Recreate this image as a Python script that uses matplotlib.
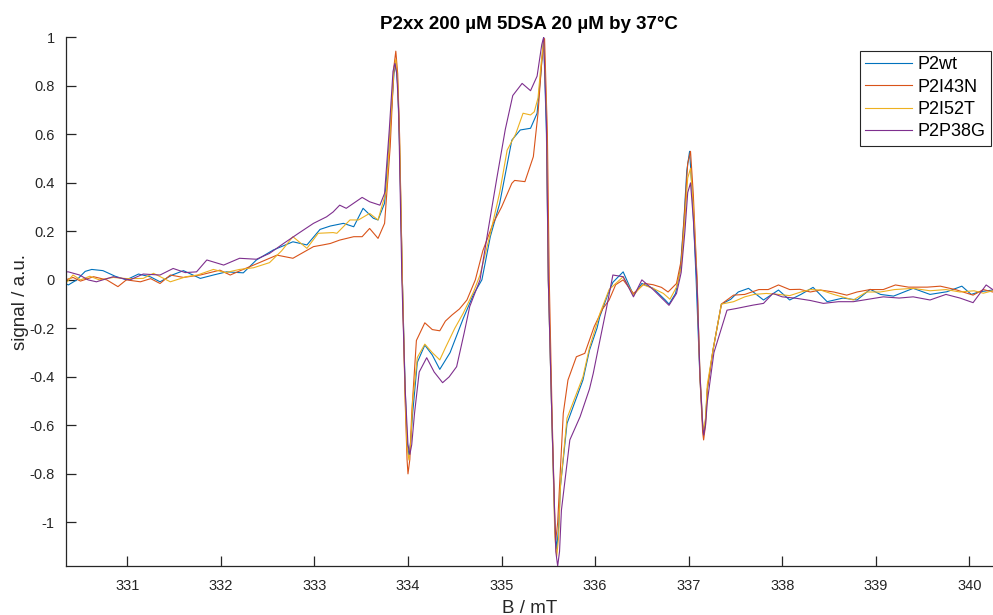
import matplotlib
matplotlib.use("Agg")
import matplotlib.pyplot as plt

plt.rcParams['font.family'] = ['Liberation Sans', 'DejaVu Sans']
plt.rcParams['axes.unicode_minus'] = False

# field (mT) and normalised signal for each sample
b_wt = [330.34, 330.37, 330.46, 330.55, 330.62, 330.74, 330.87, 330.99, 331.12, 331.25,
        331.35, 331.48, 331.60, 331.78, 331.92, 332.06, 332.24, 332.38, 332.56, 332.77,
        332.92, 333.06, 333.17, 333.31, 333.42, 333.52, 333.63, 333.68, 333.75, 333.81,
        333.85, 333.87, 333.89, 333.91, 333.94, 333.97, 333.99, 334.01, 334.03, 334.05,
        334.10, 334.18, 334.26, 334.34, 334.45, 334.59, 334.70, 334.79, 334.88, 334.98,
        335.11, 335.20, 335.31, 335.38, 335.42, 335.45, 335.48, 335.50, 335.54, 335.57,
        335.59, 335.61, 335.63, 335.70, 335.87, 335.94, 336.02, 336.05, 336.14, 336.19,
        336.30, 336.41, 336.50, 336.62, 336.75, 336.79, 336.86, 336.91, 336.95, 336.98,
        337.01, 337.04, 337.08, 337.12, 337.15, 337.16, 337.18, 337.20, 337.26, 337.35,
        337.45, 337.53, 337.64, 337.80, 337.96, 338.08, 338.20, 338.33, 338.48, 338.65,
        338.80, 338.94, 339.05, 339.19, 339.40, 339.58, 339.76, 339.92, 340.02, 340.11,
        340.25]
s_wt = [-0.015, -0.021, 0.0, 0.035, 0.043, 0.038, 0.015, 0.0, 0.024, 0.012,
        -0.008, 0.02, 0.038, 0.006, 0.02, 0.033, 0.029, 0.082, 0.123, 0.157,
        0.144, 0.208, 0.222, 0.233, 0.219, 0.295, 0.254, 0.247, 0.316, 0.618,
        0.85, 0.893, 0.80, 0.55, 0.0, -0.45, -0.66, -0.73, -0.66, -0.55,
        -0.34, -0.269, -0.31, -0.369, -0.30, -0.16, -0.06, 0.0, 0.178, 0.315,
        0.576, 0.618, 0.625, 0.687, 0.85, 1.0, 0.6, 0.0, -0.6, -1.02,
        -1.11, -1.02, -0.85, -0.592, -0.413, -0.29, -0.2, -0.152, -0.056, -0.01,
        0.033, -0.063, -0.015, -0.035, -0.083, -0.1, -0.056, 0.04, 0.25, 0.45,
        0.53, 0.35, 0.0, -0.4, -0.6, -0.633, -0.58, -0.45, -0.29, -0.1,
        -0.08, -0.05, -0.035, -0.083, -0.042, -0.083, -0.06, -0.031, -0.09, -0.075,
        -0.083, -0.039, -0.06, -0.067, -0.035, -0.06, -0.049, -0.026, -0.06, -0.049,
        -0.042]

b_i43n = [330.34, 330.42, 330.50, 330.64, 330.78, 330.90, 330.99, 331.14, 331.25, 331.35,
          331.46, 331.60, 331.78, 331.99, 332.10, 332.22, 332.35, 332.60, 332.77, 332.99,
          333.09, 333.17, 333.27, 333.42, 333.51, 333.59, 333.68, 333.75, 333.81, 333.85,
          333.87, 333.89, 333.91, 333.94, 333.97, 333.99, 334.00, 334.02, 334.04, 334.09,
          334.18, 334.26, 334.34, 334.40, 334.47, 334.55, 334.63, 334.72, 334.80, 334.91,
          335.00, 335.11, 335.14, 335.25, 335.34, 335.39, 335.43, 335.46, 335.49, 335.51,
          335.54, 335.57, 335.58, 335.60, 335.62, 335.66, 335.71, 335.80, 335.89, 335.99,
          336.08, 336.15, 336.22, 336.30, 336.41, 336.53, 336.62, 336.71, 336.78, 336.87,
          336.92, 336.96, 336.99, 337.02, 337.05, 337.09, 337.12, 337.15, 337.16, 337.18,
          337.20, 337.26, 337.35, 337.48, 337.60, 337.75, 337.85, 337.96, 338.08, 338.19,
          338.30, 338.41, 338.55, 338.69, 338.80, 338.94, 339.08, 339.21, 339.35, 339.55,
          339.69, 339.85, 340.04, 340.15, 340.25]
s_i43n = [0.0, 0.01, -0.005, 0.013, 0.0, -0.028, 0.0, -0.008, 0.005, -0.015,
          0.02, 0.01, 0.02, 0.04, 0.02, 0.04, 0.061, 0.102, 0.089, 0.137,
          0.144, 0.15, 0.164, 0.178, 0.178, 0.212, 0.171, 0.233, 0.549, 0.88,
          0.943, 0.85, 0.6, 0.0, -0.5, -0.74, -0.80, -0.74, -0.55, -0.25,
          -0.177, -0.205, -0.21, -0.17, -0.145, -0.12, -0.083, 0.0, 0.12, 0.233,
          0.30, 0.398, 0.41, 0.405, 0.508, 0.687, 0.9, 0.995, 0.6, 0.0,
          -0.55, -1.0, -1.073, -1.0, -0.85, -0.55, -0.413, -0.317, -0.303, -0.193,
          -0.12, -0.083, -0.02, 0.0, -0.056, -0.015, -0.02, -0.031, -0.05, -0.015,
          0.08, 0.3, 0.48, 0.53, 0.35, 0.0, -0.4, -0.63, -0.66, -0.6,
          -0.45, -0.29, -0.1, -0.063, -0.06, -0.04, -0.04, -0.021, -0.04, -0.039,
          -0.05, -0.042, -0.05, -0.063, -0.05, -0.04, -0.04, -0.021, -0.03, -0.03,
          -0.026, -0.04, -0.063, -0.04, -0.05]

b_i52t = [330.34, 330.42, 330.50, 330.60, 330.70, 330.85, 331.00, 331.17, 331.28, 331.46,
          331.63, 331.75, 331.92, 332.05, 332.20, 332.35, 332.52, 332.65, 332.77, 332.92,
          333.04, 333.20, 333.24, 333.38, 333.47, 333.59, 333.68, 333.77, 333.82, 333.85,
          333.87, 333.89, 333.91, 333.94, 333.97, 333.99, 334.01, 334.03, 334.05, 334.10,
          334.18, 334.26, 334.34, 334.40, 334.50, 334.59, 334.70, 334.77, 334.88, 334.98,
          335.06, 335.15, 335.23, 335.31, 335.35, 335.39, 335.42, 335.45, 335.48, 335.50,
          335.54, 335.57, 335.59, 335.61, 335.63, 335.70, 335.87, 335.94, 336.05, 336.15,
          336.30, 336.41, 336.51, 336.62, 336.73, 336.80, 336.87, 336.92, 336.96, 336.99,
          337.02, 337.05, 337.09, 337.12, 337.15, 337.16, 337.18, 337.20, 337.26, 337.35,
          337.48, 337.60, 337.70, 337.83, 337.96, 338.08, 338.20, 338.30, 338.41, 338.55,
          338.76, 338.90, 339.05, 339.20, 339.40, 339.58, 339.75, 339.90, 340.05, 340.15,
          340.25]
s_i52t = [-0.015, 0.02, 0.0, 0.015, 0.0, 0.01, 0.005, 0.006, 0.027, -0.008,
          0.013, 0.02, 0.043, 0.03, 0.043, 0.05, 0.071, 0.12, 0.178, 0.13,
          0.192, 0.195, 0.192, 0.247, 0.247, 0.274, 0.247, 0.37, 0.687, 0.87,
          0.909, 0.82, 0.58, 0.0, -0.48, -0.69, -0.743, -0.67, -0.5, -0.32,
          -0.265, -0.30, -0.33, -0.28, -0.2, -0.138, -0.05, 0.02, 0.19, 0.36,
          0.535, 0.6, 0.687, 0.68, 0.693, 0.75, 0.88, 0.99, 0.7, 0.0,
          -0.6, -1.06, -1.14, -1.06, -0.85, -0.57, -0.40, -0.28, -0.14, -0.04,
          0.013, -0.063, -0.02, -0.035, -0.056, -0.08, -0.03, 0.05, 0.25, 0.42,
          0.46, 0.3, 0.0, -0.38, -0.59, -0.62, -0.57, -0.43, -0.29, -0.1,
          -0.09, -0.07, -0.06, -0.056, -0.06, -0.065, -0.05, -0.04, -0.042, -0.06,
          -0.083, -0.05, -0.05, -0.04, -0.035, -0.045, -0.04, -0.05, -0.045, -0.055,
          -0.045]

b_p38g = [330.34, 330.37, 330.49, 330.58, 330.67, 330.85, 331.03, 331.17, 331.35, 331.49,
          331.62, 331.74, 331.85, 332.03, 332.20, 332.38, 332.52, 332.67, 332.83, 332.99,
          333.13, 333.20, 333.27, 333.34, 333.51, 333.59, 333.70, 333.75, 333.80, 333.84,
          333.86, 333.88, 333.90, 333.935, 333.97, 334.00, 334.02, 334.04, 334.07, 334.12,
          334.20, 334.28, 334.37, 334.44, 334.52, 334.60, 334.66, 334.77, 334.85, 334.95,
          335.04, 335.12, 335.22, 335.31, 335.38, 335.43, 335.45, 335.48, 335.50, 335.54,
          335.58, 335.60, 335.62, 335.64, 335.73, 335.84, 335.94, 335.98, 336.03, 336.12,
          336.19, 336.30, 336.41, 336.50, 336.62, 336.79, 336.87, 336.92, 336.96, 336.99,
          337.02, 337.05, 337.09, 337.12, 337.15, 337.16, 337.18, 337.20, 337.27, 337.41,
          337.51, 337.69, 337.80, 337.90, 338.00, 338.15, 338.30, 338.44, 338.60, 338.76,
          338.92, 339.08, 339.25, 339.40, 339.58, 339.75, 339.90, 340.04, 340.18, 340.25]
s_p38g = [0.033, 0.033, 0.02, 0.0, -0.008, 0.013, 0.0, 0.024, 0.02, 0.047,
          0.03, 0.033, 0.082, 0.061, 0.089, 0.085, 0.109, 0.15, 0.192, 0.233,
          0.26, 0.28, 0.308, 0.295, 0.34, 0.322, 0.308, 0.357, 0.618, 0.86,
          0.893, 0.85, 0.7, 0.0, -0.45, -0.68, -0.72, -0.68, -0.55, -0.38,
          -0.321, -0.38, -0.424, -0.40, -0.358, -0.22, -0.11, 0.0, 0.19, 0.42,
          0.62, 0.76, 0.81, 0.78, 0.84, 0.97, 1.0, 0.65, 0.0, -0.6,
          -1.12, -1.18, -1.12, -0.95, -0.66, -0.564, -0.45, -0.386, -0.29, -0.12,
          0.02, 0.013, -0.07, 0.0, -0.04, -0.105, -0.056, 0.03, 0.2, 0.36,
          0.40, 0.25, -0.02, -0.38, -0.6, -0.64, -0.6, -0.5, -0.3, -0.125,
          -0.118, -0.104, -0.097, -0.056, -0.07, -0.076, -0.085, -0.097, -0.09, -0.09,
          -0.08, -0.07, -0.075, -0.07, -0.083, -0.06, -0.075, -0.094, -0.021, -0.04]

labels = ["P2wt", "P2I43N", "P2I52T", "P2P38G"]
colors = ["#0072BD", "#D95319", "#EDB120", "#7E2F8E"]
x_ticks = [331, 332, 333, 334, 335, 336, 337, 338, 339, 340]
y_ticks = [-1, -0.8, -0.6, -0.4, -0.2, 0, 0.2, 0.4, 0.6, 0.8, 1]
y_ticklabels = ["-1", "-0.8", "-0.6", "-0.4", "-0.2", "0", "0.2", "0.4", "0.6", "0.8", "1"]

fig = plt.figure(figsize=(9.93, 6.15), dpi=100)
ax = fig.add_axes([0.0662, 0.0792, 0.9338, 0.8601])

series = [(b_wt, s_wt), (b_i43n, s_i43n), (b_i52t, s_i52t), (b_p38g, s_p38g)]
for (b, s), lab, col in zip(series, labels, colors):
    ax.plot(b, s, color=col, lw=0.8, label=lab)

ax.set_xlim(330.342, 340.253)
ax.set_ylim(-1.181, 1.0)
ax.set_xticks(x_ticks)
ax.set_yticks(y_ticks)
ax.set_yticklabels(y_ticklabels)

dark = "#262626"
for side in ("top", "right"):
    ax.spines[side].set_visible(False)
for side in ("left", "bottom"):
    ax.spines[side].set_color(dark)
    ax.spines[side].set_linewidth(0.9)
ax.tick_params(direction="in", length=7, width=0.9, colors=dark, labelsize=10.5)
ax.tick_params(axis="x", pad=9)
ax.tick_params(axis="y", pad=8)

ax.set_title("P2xx 200 µM 5DSA 20 µM by 37°C", fontsize=13.5, fontweight="bold", pad=6)
ax.set_xlabel("B / mT", fontsize=13.5, color=dark, labelpad=5)
ax.set_ylabel("signal / a.u.", fontsize=13.5, color=dark, labelpad=0)

leg = ax.legend(loc="upper right", bbox_to_anchor=(990.7 / 993, 1 - 50.7 / 615),
                bbox_transform=fig.transFigure, borderaxespad=0, fontsize=13,
                handlelength=2.6, handletextpad=0.3, labelspacing=0.3,
                borderpad=0.3, fancybox=False, framealpha=1)
leg.get_frame().set_edgecolor(dark)
leg.get_frame().set_linewidth(0.8)

fig.savefig("out.png", dpi=100)
